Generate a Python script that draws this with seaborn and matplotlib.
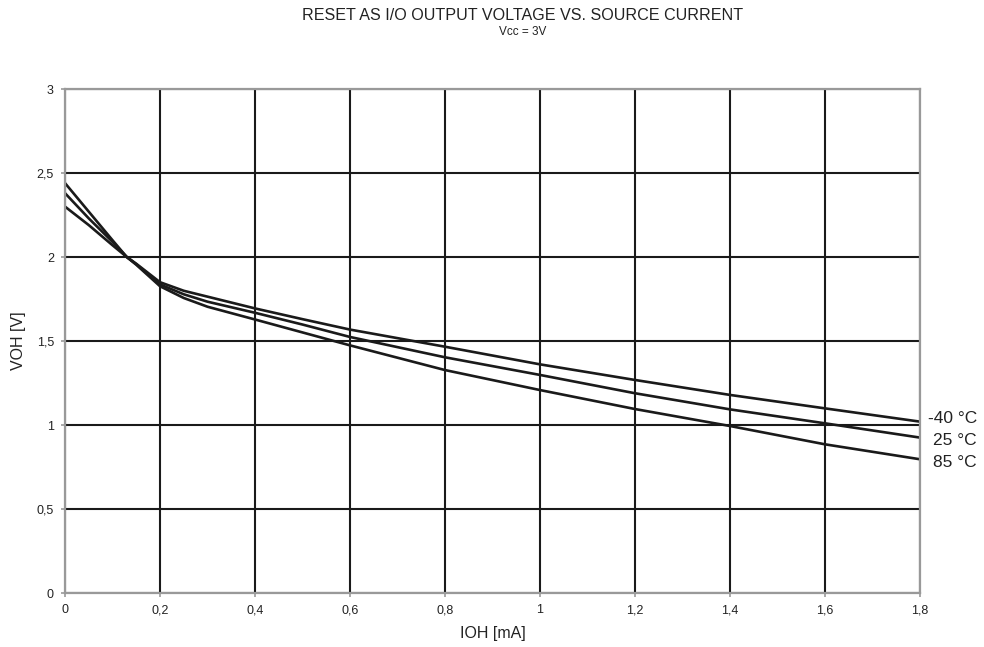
import numpy as np
import pandas as pd
import matplotlib
matplotlib.use("Agg")
import matplotlib.pyplot as plt
import seaborn as sns

# Data
ioh_ma = [0.0, 0.05, 0.10, 0.13, 0.15, 0.20, 0.25, 0.30, 0.40, 0.50, 0.60, 0.80, 1.00, 1.20, 1.40, 1.60, 1.80]
voh_m40 = [2.30, 2.19, 2.07, 2.00, 1.960, 1.850, 1.799, 1.764, 1.694, 1.630, 1.568, 1.466, 1.361, 1.268, 1.179, 1.099, 1.020]
voh_25 = [2.38, 2.23, 2.09, 2.00, 1.957, 1.837, 1.778, 1.734, 1.668, 1.598, 1.524, 1.403, 1.298, 1.189, 1.093, 1.010, 0.925]
voh_85 = [2.44, 2.27, 2.10, 2.00, 1.954, 1.826, 1.756, 1.704, 1.628, 1.551, 1.474, 1.327, 1.208, 1.095, 0.994, 0.885, 0.796]
series_labels = ["-40 °C", "25 °C", "85 °C"]
x_ticks = [0, 0.2, 0.4, 0.6, 0.8, 1.0, 1.2, 1.4, 1.6, 1.8]
x_tick_labels = ["0", "0,2", "0,4", "0,6", "0,8", "1", "1,2", "1,4", "1,6", "1,8"]
y_ticks = [0, 0.5, 1.0, 1.5, 2.0, 2.5, 3.0]
y_tick_labels = ["0", "0,5", "1", "1,5", "2", "2,5", "3"]

df = pd.concat([
    pd.DataFrame({"IOH": ioh_ma, "VOH": v, "T": lab})
    for v, lab in zip([voh_m40, voh_25, voh_85], series_labels)
])

sns.set_theme(style="white")
plt.rcParams["font.family"] = ["Liberation Sans", "DejaVu Sans"]

fig = plt.figure(figsize=(9.84, 6.47), dpi=100)
ax = fig.add_axes([65 / 984, 1 - 593 / 647, (920 - 65) / 984, (593 - 89) / 647])

sns.lineplot(data=df, x="IOH", y="VOH", hue="T", palette=["#1a1a1a"] * 3,
             legend=False, linewidth=1.9, ax=ax, zorder=3)

ax.set_xlim(0, 1.8)
ax.set_ylim(0, 3)
ax.set_xticks(x_ticks)
ax.set_xticklabels(x_tick_labels)
ax.set_yticks(y_ticks)
ax.set_yticklabels(y_tick_labels)
ax.grid(True, color="#1a1a1a", linewidth=1.5)
ax.set_axisbelow(True)
for s in ax.spines.values():
    s.set_color("#999999")
    s.set_linewidth(1.6)
    s.set_zorder(4)
ax.tick_params(axis="both", which="major", labelsize=9, colors="#999999",
               labelcolor="#222222", length=3, width=1.2, direction="out",
               bottom=True, left=True, pad=5)

ax.set_xlabel("IOH [mA]", fontsize=11.5, color="#222222", labelpad=7)
ax.set_ylabel("VOH [V]", fontsize=11.5, color="#222222", labelpad=8)

# End-of-line labels
dy = [2, -2, -2]
for vals, lab, d in zip([voh_m40, voh_25, voh_85], series_labels, dy):
    ax.annotate(lab, xy=(ioh_ma[-1], vals[-1]), xytext=(41, d),
                textcoords="offset points", ha="right", va="center",
                fontsize=12.5, color="#222222", annotation_clip=False)

fig.text(523 / 984, 1 - 15.5 / 647, "RESET AS I/O OUTPUT VOLTAGE VS. SOURCE CURRENT",
         ha="center", va="center", fontsize=11.6, color="#222222")
fig.text(523 / 984, 1 - 32 / 647, "Vcc = 3V", ha="center", va="center",
         fontsize=8.5, color="#222222")

fig.savefig("out.png", dpi=100)
